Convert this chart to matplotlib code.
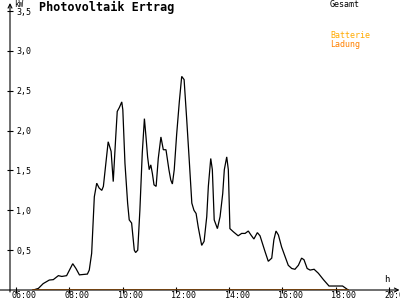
import matplotlib
matplotlib.use("Agg")
import matplotlib.pyplot as plt

# ---- data ----
hours = [6.65, 6.84, 7.02, 7.25, 7.40, 7.59, 7.72, 7.90, 8.13, 8.25, 8.38, 8.68, 8.75, 8.84,
         8.94, 9.03, 9.12, 9.22, 9.28, 9.46, 9.57, 9.65, 9.74, 9.80, 9.88, 9.97, 10.01, 10.09,
         10.19, 10.25, 10.34, 10.44, 10.49, 10.57, 10.65, 10.74, 10.82, 10.88, 10.94, 11.00,
         11.06, 11.12, 11.18, 11.26, 11.34, 11.44, 11.53, 11.63, 11.74, 11.81, 11.87, 11.94,
         12.03, 12.13, 12.22, 12.31, 12.41, 12.51, 12.60, 12.68, 12.76, 12.84, 12.97, 13.06,
         13.16, 13.22, 13.31, 13.37, 13.44, 13.56, 13.66, 13.76, 13.82, 13.91, 13.97, 14.03,
         14.16, 14.34, 14.47, 14.60, 14.72, 14.82, 14.93, 15.06, 15.16, 15.35, 15.47, 15.60,
         15.68, 15.76, 15.85, 15.97, 16.10, 16.22, 16.35, 16.47, 16.60, 16.72, 16.81, 16.93,
         17.04, 17.19, 17.35, 17.54, 17.75, 17.97, 18.26, 18.47]
gesamt_kw = [0.00, 0.02, 0.08, 0.125, 0.13, 0.18, 0.17, 0.18, 0.33, 0.27, 0.19, 0.20, 0.25, 0.46,
             1.17, 1.34, 1.28, 1.25, 1.30, 1.86, 1.74, 1.36, 1.90, 2.24, 2.29, 2.36, 2.26, 1.59,
             1.09, 0.88, 0.84, 0.50, 0.47, 0.50, 1.00, 1.72, 2.15, 1.92, 1.67, 1.51,
             1.57, 1.46, 1.32, 1.30, 1.65, 1.92, 1.76, 1.76, 1.51, 1.38, 1.33, 1.51,
             1.95, 2.36, 2.68, 2.64, 2.13, 1.59, 1.09, 1.00, 0.96, 0.79, 0.56, 0.61,
             0.92, 1.30, 1.65, 1.51, 0.88, 0.77, 0.92, 1.21, 1.51, 1.67, 1.51, 0.77,
             0.73, 0.68, 0.71, 0.71, 0.74, 0.69, 0.64, 0.72, 0.68, 0.48, 0.36, 0.40,
             0.63, 0.74, 0.69, 0.54, 0.42, 0.31, 0.27, 0.26, 0.31, 0.40, 0.38, 0.27,
             0.25, 0.26, 0.21, 0.13, 0.05, 0.05, 0.05, 0.00]
ladung_hours = [6.65, 18.47]
ladung_kw = [0.0, 0.0]

x_ticks = [6, 8, 10, 12, 14, 16, 18, 20]
x_ticklabels = ["06:00", "08:00", "10:00", "12:00", "14:00", "16:00", "18:00", "20:00"]
y_ticks = [0.5, 1.0, 1.5, 2.0, 2.5, 3.0, 3.5]
y_ticklabels = ["0,5", "1,0", "1,5", "2,0", "2,5", "3,0", "3,5"]

title = "Photovoltaik Ertrag"
legend_gesamt = "Gesamt"
legend_batt1 = "Batterie"
legend_batt2 = "Ladung"

# ---- figure ----
W, H = 400, 300
fig = plt.figure(figsize=(4, 3), dpi=100)
fig.patch.set_facecolor("white")
ax = fig.add_axes([0, 10 / H, 1, 287 / H])
ax.set_facecolor("none")

mono = "DejaVu Sans Mono"
px_per_h = 26.64
px_per_kw = 79.7
x_left = 6 - 16 / px_per_h
x_right = 6 + 384 / px_per_h
y_axis_x = 6 - 6 / px_per_h
ax.set_xlim(x_left, x_right)
ax.set_ylim(0, 287 / px_per_kw)

ax.spines["left"].set_position(("data", y_axis_x))
for s in ax.spines.values():
    s.set_visible(False)

# axes lines with arrows
ax.annotate("", xy=(x_right - 0.5 / px_per_h, 0), xytext=(x_left, 0),
            arrowprops=dict(arrowstyle="->", lw=0.8, color="black",
                            shrinkA=0, shrinkB=0, mutation_scale=7),
            annotation_clip=False)
ax.annotate("", xy=(y_axis_x, 287 / px_per_kw), xytext=(y_axis_x, -2 / px_per_kw),
            arrowprops=dict(arrowstyle="->", lw=0.8, color="black",
                            shrinkA=0, shrinkB=0, mutation_scale=7),
            annotation_clip=False)

ax.plot(hours, gesamt_kw, color="black", lw=0.9, solid_joinstyle="miter")
ax.plot(ladung_hours, ladung_kw, color="#ff8000", lw=1.2)

# major x ticks: marks only; minor x ticks (shifted 4.5 px left): labels only
ax.set_xticks(x_ticks)
ax.set_xticklabels([""] * len(x_ticks))
ax.set_xticks([t - 4.5 / px_per_h for t in x_ticks], minor=True)
ax.set_xticklabels(x_ticklabels, minor=True, fontfamily=mono, fontsize=6, ha="left")
ax.tick_params(axis="x", which="major", direction="inout", length=5, width=0.8)
ax.tick_params(axis="x", which="minor", length=0, pad=1.0)

ax.set_yticks(y_ticks)
ax.set_yticklabels(y_ticklabels, fontfamily=mono, fontsize=6, ha="left")
ax.tick_params(axis="y", direction="inout", length=5, width=0.8, pad=-7)

fig.text(19 / W, 1 - 4.5 / H, "kW", fontfamily=mono, fontsize=5.5,
         ha="center", va="center")
fig.text(387 / W, 1 - 280 / H, "h", fontfamily=mono, fontsize=6.5,
         ha="center", va="center")
fig.text(39 / W, 1 - 7 / H, title, fontfamily=mono, fontsize=8.5,
         fontweight="bold", ha="left", va="center")
fig.text(330 / W, 1 - 4.5 / H, legend_gesamt, fontfamily=mono, fontsize=6,
         ha="left", va="center", color="black")
fig.text(330 / W, 1 - 35 / H, legend_batt1, fontfamily=mono, fontsize=6,
         ha="left", va="center", color="#ffaa00")
fig.text(330 / W, 1 - 44 / H, legend_batt2, fontfamily=mono, fontsize=6,
         ha="left", va="center", color="#ff8000")

fig.savefig("out.png", dpi=100)
